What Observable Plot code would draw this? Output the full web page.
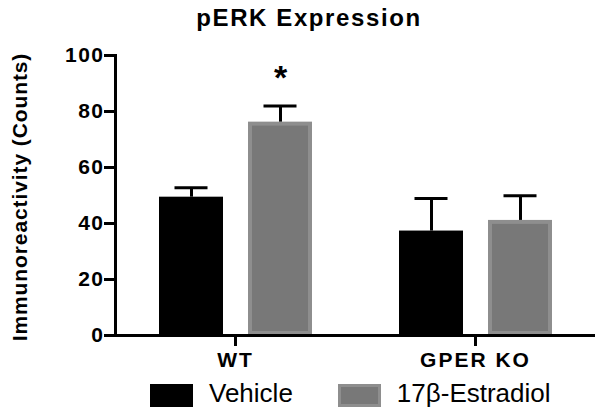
<!DOCTYPE html>
<html>
<head>
<meta charset="utf-8">
<script src="https://cdn.jsdelivr.net/npm/d3@7"></script>
<script src="https://cdn.jsdelivr.net/npm/@observablehq/plot@0.6"></script>
<style>
  html, body { margin: 0; padding: 0; background: #fff; }
  body { width: 600px; height: 412px; position: relative; overflow: hidden; font-family: "Liberation Sans", Arial, sans-serif; color: #000; }
  #title { height: 38px; line-height: 36px; text-align: center; padding-left: 18px; box-sizing: border-box; font-size: 24px; font-weight: bold; letter-spacing: 1.6px; white-space: nowrap; }
  #chart { position: relative; height: 336px; }
  #chart svg { display: block; }
  #ylabel { position: absolute; left: 20px; top: 159px; transform: translate(-50%, -50%) rotate(-90deg); white-space: nowrap; font-size: 21px; font-weight: bold; letter-spacing: 0.9px; }
  #legend { height: 38px; display: flex; align-items: center; padding-left: 150px; box-sizing: border-box; font-size: 26px; white-space: nowrap; }
  .sw { width: 43px; height: 23px; box-sizing: border-box; margin-right: 16px; flex-shrink: 0; position: relative; top: 2px; }
  .item { display: flex; align-items: center; margin-right: 45px; flex-shrink: 0; }
</style>
</head>
<body>
<div id="title">pERK Expression</div>
<div id="chart"><div id="ylabel">Immunoreactivity (Counts)</div></div>
<div id="legend"></div>
<script>
// ---- data ----
const groups = ["WT", "GPER KO"];
const treatments = ["Vehicle", "17β-Estradiol"];
const vehicleMean = [49.4, 37.3];
const vehicleSem = [3.4, 11.6];
const estradiolMean = [76.2, 41.1];
const estradiolSem = [5.8, 8.8];
const estradiolSig = ["*", ""];
const yTicks = [0, 20, 40, 60, 80, 100];
const fills = ["#000000", "#787878"];
const strokes = ["#000000", "#8e8e8e"];

const rows = [];
groups.forEach((g, i) => {
  rows.push({group: g, treatment: treatments[0], mean: vehicleMean[i], sem: vehicleSem[i], sig: ""});
  rows.push({group: g, treatment: treatments[1], mean: estradiolMean[i], sem: estradiolSem[i], sig: estradiolSig[i]});
});
const errTop = d => d.mean + d.sem;

const plot = Plot.plot({
  width: 600,
  height: 336,
  marginTop: 17,
  marginBottom: 39,
  marginLeft: 115,
  marginRight: 5,
  style: {fontFamily: "'Liberation Sans', Arial, sans-serif", color: "#000", background: "#fff"},
  fx: {domain: groups, padding: 0},
  x: {domain: treatments, paddingInner: 0.285, paddingOuter: 0.483, axis: null},
  y: {domain: [0, 100]},
  marks: [
    Plot.barY(rows.filter(d => d.treatment === treatments[0]), {fx: "group", x: "treatment", y: "mean", fill: fills[0]}),
    Plot.barY(rows.filter(d => d.treatment === treatments[1]), {fx: "group", x: "treatment", y: "mean", fill: fills[1], stroke: strokes[1], strokeWidth: 4, inset: 2}),
    Plot.ruleX(rows, {fx: "group", x: "treatment", y1: "mean", y2: errTop, strokeWidth: 3}),
    Plot.tickY(rows, {fx: "group", x: "treatment", y: errTop, strokeWidth: 3, insetLeft: 15.5, insetRight: 15.5}),
    Plot.text(rows.filter(d => d.sig), {fx: "group", x: "treatment", y: errTop, text: "sig", dy: -28, fontSize: 34, fontWeight: "bold"}),
    Plot.ruleY([0], {strokeWidth: 3}),
    Plot.frame({anchor: "left", facetAnchor: "left", strokeWidth: 3}),
    Plot.axisY({ticks: yTicks, tickFormat: d => d, tickSize: 11, tickPadding: 0, strokeWidth: 3, fontSize: 21, fontWeight: "bold", label: null}),
    Plot.axisFx({anchor: "bottom", tickSize: 11, tickPadding: 6, strokeWidth: 3, fontSize: 21, fontWeight: "bold", label: null})
  ]
});
document.getElementById("chart").appendChild(plot);
d3.select(plot).selectAll('[aria-label="y-axis tick label"] text').attr("letter-spacing", 1.5);
d3.select(plot).selectAll('[aria-label="fx-axis tick label"] text').attr("letter-spacing", 2);

// legend
const legend = d3.select("#legend");
treatments.forEach((t, i) => {
  const item = legend.append("div").attr("class", "item");
  item.append("div").attr("class", "sw")
    .style("background", fills[i])
    .style("border", `3px solid ${strokes[i]}`);
  item.append("span").text(t);
});
</script>
</body>
</html>
